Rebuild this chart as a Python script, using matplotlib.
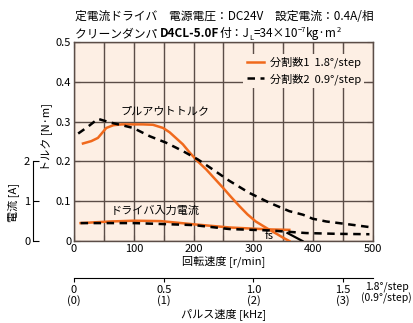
import matplotlib.pyplot as plt
import numpy as np

plt.rcParams['font.family'] = ['Noto Sans CJK JP', 'DejaVu Sans']
plt.rcParams['font.size'] = 8

# pull-out torque [N·m] vs speed [r/min]
rpm_po1 = [15, 29, 40, 54, 66, 80, 99, 115, 132, 149, 160, 182, 193, 207, 221, 235, 249, 263, 277, 290, 304, 316, 327, 340, 350, 360]
po1 = [0.245, 0.251, 0.259, 0.284, 0.291, 0.293, 0.293, 0.293, 0.292, 0.284, 0.273, 0.243, 0.223, 0.200, 0.180, 0.157, 0.134, 0.110, 0.087, 0.067, 0.049, 0.038, 0.028, 0.017, 0.008, 0.0]
rpm_po2 = [7, 24, 40, 60, 80, 99, 127, 154, 182, 207, 227, 260, 293, 327, 360, 383, 399, 422, 456, 494]
po2 = [0.270, 0.288, 0.307, 0.298, 0.291, 0.284, 0.263, 0.247, 0.226, 0.205, 0.185, 0.151, 0.121, 0.096, 0.075, 0.066, 0.056, 0.049, 0.0425, 0.035]

# driver input current (0.1 N·m on the torque scale = 1 A)
rpm_i1 = [11, 60, 100, 145, 200, 260, 300, 330, 360]
cur1 = [0.045, 0.049, 0.051, 0.050, 0.042, 0.034, 0.031, 0.029, 0.028]
rpm_i2 = [11, 100, 200, 260, 327, 388, 440, 494]
cur2 = [0.045, 0.045, 0.040, 0.030, 0.0265, 0.020, 0.018, 0.017]

# start-stop limit segment
rpm_fs = [357, 382]
fs_line = [0.020, 0.0]

orange = '#f0691c'
gridc = '#5b4d47'
face = '#fdefe4'

fig = plt.figure(figsize=(4.14, 3.23), dpi=100)
ax = fig.add_axes([74/414, 1-241/323, 299/414, 199/323])
ax.set_facecolor(face)

ax.plot(rpm_po1, po1, color=orange, lw=1.8, label='分割数1  1.8°/step', zorder=3)
ax.plot(rpm_po2, po2, color='black', lw=1.8, ls=(0, (3, 2.2)), label='分割数2  0.9°/step', zorder=3)
ax.plot(rpm_i1, cur1, color=orange, lw=1.8, zorder=3)
ax.plot(rpm_i2, cur2, color='black', lw=1.8, ls=(0, (3, 2.2)), zorder=3)
ax.plot(rpm_fs, fs_line, color='black', lw=1.6, zorder=3)

ax.set_xlim(0, 500)
ax.set_ylim(0, 0.5)
ax.set_xticks(np.arange(0, 501, 50))
ax.set_xticklabels([str(v) if v % 100 == 0 else '' for v in range(0, 501, 50)])
ax.set_yticks([0, 0.1, 0.2, 0.3, 0.4, 0.5])
ax.set_yticklabels(['0', '0.1', '0.2', '0.3', '0.4', '0.5'])
ax.tick_params(direction='in', length=4, color=gridc, top=True, right=True, pad=2)
ax.grid(True, color=gridc, lw=1.0, zorder=1)
ax.set_axisbelow(True)
for s in ax.spines.values():
    s.set_color(gridc)
    s.set_linewidth(1.0)
ax.set_xlabel('回転速度 [r/min]', labelpad=1)

ax.text(153, 0.325, 'プルアウトトルク', ha='center', va='center')
ax.text(136, 0.077, 'ドライバ入力電流', ha='center', va='center')
ax.text(327, 0.012, 'fs', ha='center', va='center')

leg = ax.legend(loc='upper right', bbox_to_anchor=(0.99, 0.97), frameon=True, fancybox=False,
                facecolor=face, edgecolor='none', framealpha=1, handlelength=1.6,
                handletextpad=0.5, labelspacing=0.45, borderpad=0.3)
leg.set_zorder(5)

ax.text(-0.092, 0.52, 'トルク [N·m]', rotation=90, ha='center', va='center', transform=ax.transAxes)

# pulse speed axis
sec = ax.secondary_xaxis(-0.186, functions=(lambda r: r / 300, lambda k: k * 300))
sec.set_xticks([0, 0.5, 1.0, 1.5])
sec.set_xticklabels(['0\n(0)', '0.5\n(1)', '1.0\n(2)', '1.5\n(3)'], linespacing=1.05)
sec.tick_params(direction='out', length=3, pad=2)
sec.set_xlabel('パルス速度 [kHz]', labelpad=1)
ax.text(1.045, -0.186 - 3.5/199, '1.8°/step\n(0.9°/step)', transform=ax.transAxes, ha='center', va='top',
        linespacing=1.05, fontsize=7.5)

# current axis
cax = fig.add_axes([33/414, 1-241/323, 0.0001, 0.4*199/323])
cax.set_ylim(0, 2)
cax.set_yticks([0, 1, 2])
cax.set_xticks([])
for k in ['top', 'right', 'bottom']:
    cax.spines[k].set_visible(False)
cax.tick_params(axis='y', direction='in', length=4, pad=2)
cax.set_facecolor('none')
fig.text(13/414, 1-203/323, '電流 [A]', rotation=90, ha='center', va='center')

# header
t1 = fig.text(75/414, 1-20/323, '定電流ドライバ　電源電圧：DC24V　設定電流：0.4A/相', va='baseline', fontsize=8.5)
p = fig.text(75/414, 1-37/323, 'クリーンダンパ ', va='baseline', fontsize=8.5)
parts = [('D4CL-5.0F', 'bold', 8.5, 0), ('付：J', 'normal', 8.5, 0), ('L', 'normal', 5.5, -1.5),
         ('=34×10', 'normal', 8.5, 1.5), ('−7', 'normal', 5.5, 4), ('kg·m', 'normal', 8.5, -4),
         ('2', 'normal', 5.5, 4)]
for s, w, fsz, dy in parts:
    p = ax.annotate(s, xy=(1, 0), xycoords=p, xytext=(0, dy), textcoords='offset points',
                    va='bottom', fontweight=w, fontsize=fsz, annotation_clip=False)

fig.savefig('out.png', dpi=100)
